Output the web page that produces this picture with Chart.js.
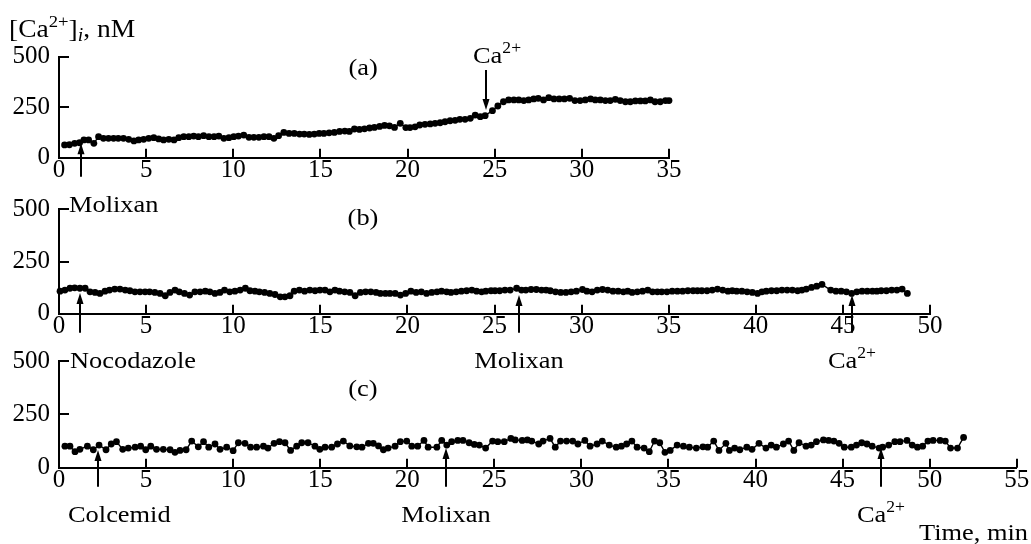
<!DOCTYPE html>
<html lang="en">
<head>
    <meta charset="UTF-8">
    <title>[Ca2+]i time course</title>
    <script src="https://cdn.jsdelivr.net/npm/chart.js"></script>
    <style>
        body {
            margin: 0;
            background-color: #fff;
        }

        #wrap {
            position: relative;
            width: 1031px;
            height: 544px;
        }

        #wrap canvas {
            position: absolute;
            left: 0;
            top: 0;
        }
    </style>
</head>
<body>
    <div id="wrap">
        <canvas id="panelA" width="1031" height="544"></canvas>
        <canvas id="panelB" width="1031" height="544"></canvas>
        <canvas id="panelC" width="1031" height="544"></canvas>
    </div>

    <script>
        // ---- panel (a): Molixan, then Ca2+ ----
        const timeA = [
            0.32, 0.6, 0.9, 1.18, 1.43, 1.7, 2.0,
            2.27, 2.55, 2.84, 3.13, 3.4, 3.7,
            4.0, 4.3, 4.57, 4.86, 5.15, 5.44, 5.72, 6.0,
            6.3, 6.6, 6.87, 7.16, 7.45, 7.73, 8.0,
            8.3, 8.6, 8.9, 9.17, 9.46, 9.75, 10.03,
            10.3, 10.6, 10.9, 11.18, 11.47, 11.76, 12.05,
            12.33, 12.6, 12.9, 13.2, 13.5, 13.8, 14.07,
            14.36, 14.65, 14.93, 15.2, 15.5, 15.8, 16.1,
            16.4, 16.66, 16.95, 17.24, 17.53, 17.82,
            18.1, 18.4, 18.68, 18.96, 19.25, 19.58, 19.9,
            20.14, 20.43, 20.7, 21.0, 21.3, 21.58, 21.87,
            22.15, 22.44, 22.73, 23.0, 23.3, 23.6, 23.88,
            24.17, 24.45, 24.87, 25.18, 25.5, 25.8,
            26.1, 26.38, 26.67, 26.95, 27.24, 27.5, 27.8,
            28.1, 28.4, 28.7, 29.0, 29.3, 29.6, 29.9,
            30.2, 30.5, 30.77, 31.06, 31.35, 31.63, 31.92,
            32.2, 32.5, 32.78, 33.07, 33.36, 33.64, 33.93,
            34.2, 34.5, 34.8, 35.0
        ];
        const caA = [
            63, 64, 71, 74, 88, 88, 71,
            104, 96, 96, 96, 96, 96,
            91, 83, 88, 91, 96, 99, 93, 88,
            91, 88, 99, 104, 104, 107, 104,
            109, 104, 104, 107, 96, 99, 104,
            107, 112, 101, 101, 101, 104, 104,
            96, 109, 125, 120, 120, 117, 117,
            115, 117, 120, 120, 123, 125, 130,
            132, 130, 142, 140, 143, 147,
            150, 155, 160, 158, 150, 170, 149,
            149, 153, 162, 165, 167, 170, 173,
            178, 183, 185, 190, 190, 195, 211,
            203, 208, 233, 256, 277, 286,
            286, 286, 283, 286, 291, 294, 286,
            297, 291, 291, 291, 294, 283, 283,
            286, 291, 286, 286, 283, 283, 289,
            283, 277, 277, 281, 281, 281, 286,
            277, 277, 283, 283
        ];
        const eventTimesA = [1.24, 24.5];
        const eventTipsA = [71, 236];
        const eventLabelsA = ['Molixan', 'Ca2+'];

        // ---- panel (b): Nocodazole, Molixan, Ca2+ ----
        const timeB = [
            0.06, 0.34, 0.63, 0.9, 1.2, 1.5, 1.78,
            2.07, 2.35, 2.64, 2.9, 3.2, 3.5, 3.8,
            4.07, 4.36, 4.65, 4.94, 5.2, 5.5, 5.8,
            6.1, 6.37, 6.66, 6.9, 7.2, 7.5, 7.8,
            8.1, 8.4, 8.66, 8.95, 9.24, 9.5, 9.8,
            10.1, 10.4, 10.7, 10.96, 11.25, 11.5, 11.8,
            12.1, 12.4, 12.7, 12.97, 13.26, 13.5, 13.8,
            14.1, 14.4, 14.7, 14.98, 15.27, 15.55, 15.84,
            16.1, 16.4, 16.7, 17.0, 17.3, 17.6, 17.9,
            18.2, 18.45, 18.74, 19.0, 19.3, 19.6, 19.9,
            20.2, 20.5, 20.8, 21.1, 21.4, 21.7, 21.96,
            22.25, 22.5, 22.8, 23.1, 23.4, 23.7, 23.97,
            24.26, 24.5, 24.8, 25.03, 25.3, 25.6, 25.9,
            26.27, 26.55, 26.8, 27.1, 27.4, 27.7, 27.96,
            28.2, 28.5, 28.8, 29.1, 29.4, 29.7, 30.05,
            30.3, 30.6, 30.9, 31.2, 31.5, 31.8, 32.1,
            32.4, 32.65, 32.9, 33.2, 33.5, 33.8, 34.07,
            34.35, 34.6, 34.9, 35.2, 35.5, 35.8, 36.1,
            36.4, 36.65, 36.9, 37.2, 37.5, 37.8, 38.1,
            38.4, 38.65, 38.9, 39.2, 39.5, 39.8, 40.1,
            40.35, 40.6, 40.9, 41.2, 41.5, 41.8, 42.1,
            42.4, 42.65, 42.9, 43.2, 43.5, 43.8,
            44.3, 44.6, 44.9, 45.2, 45.5, 45.8, 46.1,
            46.4, 46.7, 46.95, 47.2, 47.5, 47.8, 48.1, 48.4, 48.7
        ];
        const caB = [
            108, 113, 122, 124, 122, 122, 105,
            102, 97, 108, 113, 118, 118, 113,
            110, 105, 105, 105, 105, 102, 97,
            86, 102, 113, 105, 97, 89, 105,
            105, 108, 105, 97, 102, 113, 105,
            108, 113, 122, 110, 108, 105, 102,
            97, 92, 81, 81, 86, 108, 113,
            108, 113, 110, 113, 113, 105, 113,
            108, 105, 102, 86, 102, 105, 105,
            102, 97, 97, 97, 97, 89, 97,
            108, 102, 105, 97, 102, 105, 108,
            105, 102, 105, 108, 110, 113, 108,
            105, 108, 110, 110, 110, 113, 113,
            122, 113, 113, 116, 116, 113, 113,
            110, 105, 102, 102, 105, 108, 116,
            108, 105, 113, 116, 113, 108, 108,
            105, 108, 102, 105, 108, 113, 105,
            105, 105, 105, 108, 108, 108, 110,
            110, 110, 110, 110, 113, 118, 113,
            108, 110, 108, 108, 105, 102, 97,
            105, 108, 110, 110, 113, 113, 113,
            110, 113, 118, 126, 132, 140,
            113, 108, 108, 105, 97, 105, 108,
            108, 108, 108, 110, 110, 113, 113, 118, 97
        ];
        const eventTimesB = [1.2, 26.4, 45.55];
        const eventTipsB = [99, 90, 90];
        const eventLabelsB = ['Nocodazole', 'Molixan', 'Ca2+'];

        // ---- panel (c): Colcemid, Molixan, Ca2+ ----
        const timeC = [
            0.34, 0.63, 0.92, 1.2, 1.63, 1.97, 2.3,
            2.7, 3.0, 3.3, 3.66, 3.98, 4.37, 4.69,
            4.98, 5.27, 5.6, 5.99, 6.38, 6.66, 6.95,
            7.3, 7.62, 8.0, 8.3, 8.6, 8.96, 9.25,
            9.63, 10.0, 10.3, 10.68, 11.0, 11.35, 11.74,
            12.0, 12.35, 12.66, 12.98, 13.3, 13.65, 13.94,
            14.3, 14.7, 14.98, 15.28, 15.66, 15.99, 16.33,
            16.7, 17.1, 17.4, 17.77, 18.05, 18.35, 18.63,
            18.9, 19.3, 19.6, 19.97, 20.26, 20.6, 20.96,
            21.2, 21.7, 21.98, 22.27, 22.55, 22.9, 23.2,
            23.55, 23.85, 24.14, 24.5, 24.9, 25.2, 25.57,
            25.95, 26.2, 26.6, 26.9, 27.15, 27.55, 27.8,
            28.2, 28.5, 28.8, 29.15, 29.5, 29.8, 30.2,
            30.5, 30.9, 31.2, 31.6, 32.0, 32.3, 32.6,
            32.9, 33.2, 33.6, 33.9, 34.2, 34.5, 34.8,
            35.1, 35.5, 35.86, 36.2, 36.6, 36.98, 37.25,
            37.6, 37.9, 38.3, 38.5, 38.8, 39.1, 39.5,
            39.8, 40.2, 40.6, 40.9, 41.2, 41.6, 41.9,
            42.2, 42.5, 42.9, 43.2, 43.5, 43.9, 44.2,
            44.5, 44.8, 45.1, 45.5, 45.8, 46.1, 46.4,
            46.7, 47.1, 47.3, 47.65, 48.0, 48.3, 48.7,
            49.0, 49.3, 49.6, 49.9, 50.2, 50.6, 50.9,
            51.2, 51.6, 51.95
        ];
        const caC = [
            101, 101, 75, 86, 101, 84, 106,
            84, 111, 122, 86, 92, 96, 101,
            84, 101, 86, 86, 84, 72, 81,
            84, 125, 98, 122, 96, 111, 86,
            96, 80, 117, 114, 96, 96, 101,
            92, 114, 122, 117, 81, 101, 117,
            117, 101, 86, 96, 96, 111, 125,
            102, 98, 96, 114, 114, 102, 84,
            92, 101, 122, 125, 101, 101, 128,
            96, 96, 128, 106, 122, 128, 128,
            117, 109, 106, 92, 125, 122, 122,
            137, 130, 128, 130, 125, 111, 125,
            137, 96, 125, 125, 125, 111, 128,
            101, 111, 125, 106, 96, 101, 111,
            125, 96, 92, 75, 125, 117, 72,
            81, 106, 101, 96, 92, 98, 96,
            125, 81, 114, 81, 92, 84, 96,
            86, 114, 92, 106, 96, 111, 125,
            81, 117, 101, 106, 122, 130, 128,
            125, 114, 96, 96, 106, 117, 111,
            101, 92, 96, 106, 122, 122, 128,
            106, 96, 101, 125, 128, 128, 125,
            92, 92, 142
        ];
        const eventTimesC = [2.22, 22.2, 47.2];
        const eventTipsC = [83, 92, 92];
        const eventLabelsC = ['Colcemid', 'Molixan', 'Ca2+'];

        const yTicks = [0, 250, 500];

        const SERIF = '"Liberation Serif", "Times New Roman", serif';
        const SX = 1.1; // the original lettering is a bit wider than Times

        function partsFor(label) {
            if (label === 'Ca2+') {
                return [{ text: 'Ca' }, { text: '2+', size: 16, dy: -10 }];
            }
            return [{ text: label }];
        }

        function drawParts(ctx, parts, x, y, align) {
            const fontOf = p => (p.italic ? 'italic ' : '') + (p.size || 24) + 'px ' + SERIF;
            const widths = parts.map(p => {
                ctx.font = fontOf(p);
                return ctx.measureText(p.text).width * SX;
            });
            const total = widths.reduce((a, b) => a + b, 0);
            let cx = x;
            if (align === 'center') cx = x - total / 2;
            if (align === 'right') cx = x - total;
            ctx.textAlign = 'left';
            ctx.textBaseline = 'alphabetic';
            parts.forEach((p, i) => {
                ctx.font = fontOf(p);
                ctx.save();
                ctx.translate(cx, y + (p.dy || 0));
                ctx.scale(SX, 1);
                ctx.fillText(p.text, 0, 0);
                ctx.restore();
                cx += widths[i];
            });
        }

        function arrow(ctx, x, from, to) {
            const dir = Math.sign(to - from);
            ctx.beginPath();
            ctx.moveTo(x, from);
            ctx.lineTo(x, to - dir * 8);
            ctx.stroke();
            ctx.beginPath();
            ctx.moveTo(x, to);
            ctx.lineTo(x - 3.5, to - dir * 11);
            ctx.lineTo(x + 3.5, to - dir * 11);
            ctx.closePath();
            ctx.fill();
        }

        // inward tick marks, panel letter, drug arrows and labels
        function decoPlugin(d) {
            return {
                id: 'deco',
                afterDraw(chart) {
                    const { ctx, chartArea: area, scales: { x, y } } = chart;
                    ctx.save();
                    ctx.strokeStyle = '#000';
                    ctx.fillStyle = '#000';
                    ctx.lineWidth = 2;

                    ctx.beginPath();
                    x.ticks.forEach(tk => {
                        if (tk.value === x.min) return;
                        const px = Math.round(x.getPixelForValue(tk.value));
                        ctx.moveTo(px, area.bottom);
                        ctx.lineTo(px, area.bottom - 9);
                    });
                    y.ticks.forEach(tk => {
                        if (tk.value === y.min) return;
                        const py = Math.round(y.getPixelForValue(tk.value));
                        ctx.moveTo(area.left, py);
                        ctx.lineTo(area.left + 10, py);
                    });
                    ctx.stroke();

                    drawParts(ctx, [{ text: d.tag }],
                        x.getPixelForValue(d.tagAt[0]), y.getPixelForValue(d.tagAt[1]), 'center');

                    d.times.forEach((t, i) => {
                        const ax = Math.round(x.getPixelForValue(t));
                        const tip = y.getPixelForValue(d.tips[i]);
                        const lay = d.layout[i];
                        if (lay.dir === 'up') {
                            arrow(ctx, ax, area.bottom + 19, tip);
                            if (lay.dx == null) {
                                drawParts(ctx, partsFor(d.labels[i]), ax, area.bottom + 54.5, 'center');
                            } else {
                                drawParts(ctx, partsFor(d.labels[i]), ax + lay.dx, area.bottom + 54.5, 'left');
                            }
                        } else {
                            arrow(ctx, ax, tip - 40, tip);
                            drawParts(ctx, partsFor(d.labels[i]), ax + lay.dx, tip - 47.5, 'left');
                        }
                    });

                    if (d.extra) d.extra(ctx);
                    ctx.restore();
                }
            };
        }

        function makePanel(id, times, values, xMax, box, deco) {
            const points = times.map((t, i) => ({ x: t, y: values[i] }));
            const tickFont = { family: SERIF, size: 25, lineHeight: 1.05 };
            return new Chart(document.getElementById(id), {
                type: 'scatter',
                data: {
                    datasets: [{
                        data: points,
                        showLine: true,
                        borderColor: '#000',
                        borderWidth: 1.4,
                        pointRadius: 3.4,
                        pointBackgroundColor: '#000',
                        pointBorderWidth: 0,
                        clip: false,
                    }],
                },
                options: {
                    responsive: false,
                    animation: false,
                    events: [],
                    layout: {
                        autoPadding: false,
                        padding: { left: 0, top: box.top, right: 1031 - box.right, bottom: 544 - box.bottom - 40 },
                    },
                    plugins: {
                        legend: { display: false },
                        tooltip: { enabled: false },
                    },
                    scales: {
                        x: {
                            type: 'linear',
                            min: 0,
                            max: xMax,
                            afterFit: s => { s.height = 40; s.paddingLeft = 0; s.paddingRight = 0; },
                            grid: { display: false, drawTicks: false },
                            border: { display: true, color: '#000', width: 2 },
                            ticks: { stepSize: 5, autoSkip: false, maxRotation: 0, padding: 0, color: '#000', font: tickFont },
                        },
                        y: {
                            type: 'linear',
                            min: yTicks[0],
                            max: yTicks[yTicks.length - 1],
                            afterFit: s => { s.width = 59; s.paddingTop = 0; s.paddingBottom = 0; },
                            afterBuildTicks: s => { s.ticks = yTicks.map(v => ({ value: v })); },
                            grid: { display: false, drawTicks: false },
                            border: { display: true, color: '#000', width: 2 },
                            ticks: { padding: 9, color: '#000', font: tickFont },
                        },
                    },
                },
                plugins: [decoPlugin(deco)],
            });
        }

        makePanel('panelA', timeA, caA, 35, { top: 56.7, bottom: 157.7, right: 669 }, {
            tag: '(a)', tagAt: [17.45, 409],
            times: eventTimesA, tips: eventTipsA, labels: eventLabelsA,
            layout: [{ dir: 'up', dx: -12 }, { dir: 'down', dx: -13 }],
            extra: ctx => drawParts(ctx, [
                { text: '[Ca', size: 25 },
                { text: '2+', size: 17, dy: -10 },
                { text: ']', size: 25 },
                { text: 'i', size: 18, italic: true, dy: 4 },
                { text: ', nM', size: 25 },
            ], 9, 37, 'left'),
        });

        makePanel('panelB', timeB, caB, 50, { top: 209.3, bottom: 313.7, right: 930 }, {
            tag: '(b)', tagAt: [17.45, 425],
            times: eventTimesB, tips: eventTipsB, labels: eventLabelsB,
            layout: [{ dir: 'up', dx: -10 }, { dir: 'up' }, { dir: 'up' }],
        });

        makePanel('panelC', timeC, caC, 55, { top: 361, bottom: 467.7, right: 1016.7 }, {
            tag: '(c)', tagAt: [17.45, 336],
            times: eventTimesC, tips: eventTipsC, labels: eventLabelsC,
            layout: [{ dir: 'up', dx: -30 }, { dir: 'up' }, { dir: 'up' }],
            extra: ctx => drawParts(ctx, [{ text: 'Time, min' }], 1028, 540, 'right'),
        });
    </script>
</body>
</html>
